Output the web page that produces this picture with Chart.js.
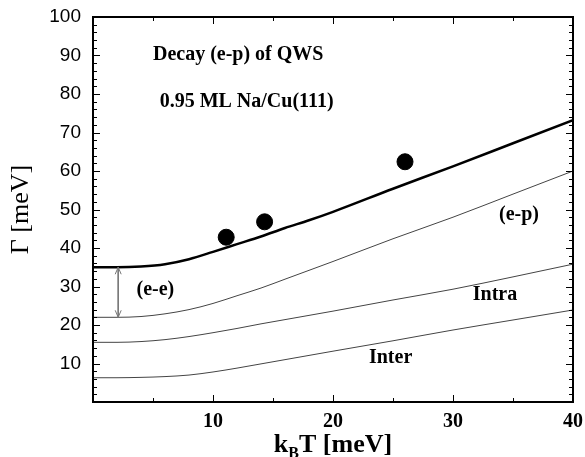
<!DOCTYPE html>
<html>
<head>
<meta charset="utf-8">
<title>Decay (e-p) of QWS</title>
<script src="https://cdn.jsdelivr.net/npm/chart.js"></script>
<style>
  html, body { margin: 0; padding: 0; background: white; }
  #wrap { width: 585px; height: 457px; }
</style>
</head>
<body>
<div id="wrap"><canvas id="decayChart"></canvas></div>
<script>
const kT = [0, 2, 4, 6, 8, 10, 12, 14, 16, 18, 20, 25, 30, 35, 40];
// linewidths (meV)
const total = [35.0, 35.0, 35.2, 35.8, 37.1, 39.0, 41.0, 43.0, 45.2, 47.2, 49.4, 55.4, 61.2, 67.2, 73.2];
const ep    = [22.0, 22.0, 22.2, 22.9, 24.0, 25.6, 27.6, 29.6, 31.9, 34.2, 36.5, 42.4, 48.0, 54.0, 60.0];
const intra = [15.5, 15.5, 15.7, 16.2, 17.0, 18.0, 19.1, 20.3, 21.4, 22.5, 23.6, 26.5, 29.3, 32.5, 35.8];
const inter = [6.3, 6.3, 6.4, 6.6, 7.0, 7.8, 8.8, 9.9, 11.0, 12.1, 13.2, 15.9, 18.7, 21.3, 23.9];

// measured points
const measT = [11.1, 14.3, 26.0];
const measG = [42.8, 46.8, 62.4];

// e-e gap arrow
const arrowT = [2.1, 2.1];
const arrowG = [35, 22];

// text labels inside the plot
const notes = [
  { text: 'Decay (e-p) of QWS', x: 12.1, y: 90.1 },
  { text: '0.95 ML Na/Cu(111)', x: 12.8, y: 78.0 },
  { text: '(e-e)', x: 5.2, y: 29.1 },
  { text: '(e-p)', x: 35.5, y: 48.6 },
  { text: 'Intra', x: 33.5, y: 27.8 },
  { text: 'Inter', x: 24.8, y: 11.5 }
];

const toXY = (xs, ys) => xs.map((v, i) => ({ x: v, y: ys[i] }));

// inside ticks on all four sides + frame
const frameTicks = {
  id: 'frameTicks',
  afterDraw(chart) {
    const { ctx, chartArea: a, scales: { x, y } } = chart;
    ctx.save();
    ctx.strokeStyle = '#000';
    ctx.lineWidth = 1;
    ctx.beginPath();
    for (let v = 5; v < 40; v += 5) {
      const px = Math.round(x.getPixelForValue(v)) + 0.5;
      const len = v % 10 === 0 ? 7 : 4;
      ctx.moveTo(px, a.bottom); ctx.lineTo(px, a.bottom - len);
      ctx.moveTo(px, a.top); ctx.lineTo(px, a.top + len);
    }
    for (let v = 2; v < 100; v += 2) {
      const py = Math.round(y.getPixelForValue(v)) + 0.5;
      const len = v % 10 === 0 ? 7 : 4;
      ctx.moveTo(a.left, py); ctx.lineTo(a.left + len, py);
      ctx.moveTo(a.right, py); ctx.lineTo(a.right - len, py);
    }
    ctx.stroke();
    ctx.lineWidth = 2;
    ctx.strokeRect(a.left, a.top, a.right - a.left, a.bottom - a.top);

    // x axis title with subscript
    const cx = (a.left + a.right) / 2;
    const base = 452;
    ctx.fillStyle = '#000';
    ctx.textBaseline = 'alphabetic';
    ctx.textAlign = 'left';
    const big = 'bold 26px "Liberation Serif"';
    const small = 'bold 16px "Liberation Serif"';
    ctx.font = big;
    const wk = ctx.measureText('k').width;
    const wr = ctx.measureText('T [meV]').width;
    ctx.font = small;
    const wb = ctx.measureText('B').width;
    let sx = cx - (wk + wb + wr) / 2;
    ctx.font = big;
    ctx.fillText('k', sx, base);
    ctx.font = small;
    ctx.fillText('B', sx + wk, base + 6);
    ctx.font = big;
    ctx.fillText('T [meV]', sx + wk + wb, base);
    ctx.restore();
  }
};

// open arrowheads on the e-e arrow and in-plot labels
const extras = {
  id: 'extras',
  afterDatasetsDraw(chart) {
    const { ctx, scales: { x, y } } = chart;
    ctx.save();
    const pts = chart.getDatasetMeta(1).data;
    ctx.strokeStyle = '#777';
    ctx.lineWidth = 1;
    ctx.beginPath();
    const top = pts[0], bot = pts[1];
    ctx.moveTo(top.x - 3, top.y + 7); ctx.lineTo(top.x, top.y); ctx.lineTo(top.x + 3, top.y + 7);
    ctx.moveTo(bot.x - 3, bot.y - 7); ctx.lineTo(bot.x, bot.y); ctx.lineTo(bot.x + 3, bot.y - 7);
    ctx.stroke();

    ctx.fillStyle = '#000';
    ctx.font = 'bold 20px "Liberation Serif"';
    ctx.textAlign = 'center';
    ctx.textBaseline = 'middle';
    notes.forEach(n => ctx.fillText(n.text, x.getPixelForValue(n.x), y.getPixelForValue(n.y)));
    ctx.restore();
  }
};

const thin = { borderColor: '#444', borderWidth: 1, pointRadius: 0, fill: false, cubicInterpolationMode: 'monotone' };

new Chart(document.getElementById('decayChart'), {
  type: 'line',
  data: {
    datasets: [
      { type: 'scatter', label: 'measured', data: toXY(measT, measG), pointRadius: 8, pointHoverRadius: 8,
        backgroundColor: '#000', borderColor: '#000', showLine: false },
      { label: 'e-e', data: toXY(arrowT, arrowG), borderColor: '#777', borderWidth: 1, pointRadius: 0 },
      { label: 'total', data: toXY(kT, total), borderColor: '#000', borderWidth: 2.5, pointRadius: 0,
        fill: false, cubicInterpolationMode: 'monotone' },
      Object.assign({ label: 'e-p', data: toXY(kT, ep) }, thin),
      Object.assign({ label: 'intra', data: toXY(kT, intra) }, thin),
      Object.assign({ label: 'inter', data: toXY(kT, inter) }, thin)
    ]
  },
  options: {
    responsive: true,
    maintainAspectRatio: false,
    animation: false,
    layout: { padding: { top: 17, right: 12, left: 0, bottom: 0 } },
    plugins: { legend: { display: false }, tooltip: { enabled: false } },
    scales: {
      x: {
        type: 'linear', min: 0, max: 40,
        grid: { display: false, drawTicks: false },
        border: { display: false },
        ticks: {
          stepSize: 10, padding: 8, color: '#000',
          font: { family: 'Liberation Serif', size: 20, weight: 'bold' },
          callback: v => v === 0 ? '' : v
        },
        afterFit: s => { s.height = 55; s.paddingLeft = 0; s.paddingRight = 0; }
      },
      y: {
        type: 'linear', min: 0, max: 100,
        grid: { display: false, drawTicks: false },
        border: { display: false },
        ticks: {
          stepSize: 10, padding: 12, color: '#000',
          font: { family: 'Liberation Sans', size: 19 },
          callback: v => v === 0 ? '' : v
        },
        title: {
          display: true, text: 'Γ [meV]', color: '#000',
          font: { family: 'Liberation Serif', size: 26 },
          padding: { top: 6, bottom: 0 }
        },
        afterFit: s => { s.width = 93; s.paddingTop = 0; s.paddingBottom = 0; }
      }
    }
  },
  plugins: [frameTicks, extras]
});
</script>
</body>
</html>
